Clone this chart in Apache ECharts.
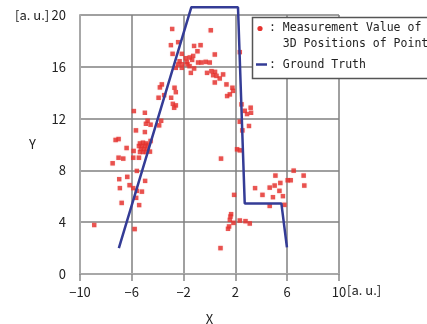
<!DOCTYPE html>
<html>
<head>
<meta charset="utf-8">
<script src="https://cdn.jsdelivr.net/npm/echarts@6/dist/echarts.min.js"></script>
<style>
  html, body { margin: 0; padding: 0; background: #fff; }
  #chart { width: 427px; height: 324px; }
</style>
</head>
<body>
<div id="chart"></div>
<script>
const measX = [
  -2.88, 0.10, -2.42, -2.98, -1.19, -0.69, -0.93, -2.85, -2.14, 0.41,
  -1.26, -1.83, -1.52, -1.34, -2.31, -1.75, -0.88, -0.62, -0.29, 0.02,
  -2.42, -2.11, -1.70, -2.60, -2.14, -1.54, -1.19, -1.44, -0.19, 0.15,
  0.43, 0.28, 0.54, 1.05, 0.79, 0.41, 1.31, 1.77, -3.68, -3.83,
  -2.70, -2.60, -3.50, -3.93, -2.96, 1.57, 1.36, 1.82, -2.83, -2.60,
  -2.73, 2.47, 3.18, 2.72, 2.90, 3.21, 2.34, 3.05, 2.54, 2.13,
  2.34, 0.89, 2.34,
  -5.84, -4.99, -4.78, -4.91, -4.55, -3.73, -3.89, -5.68, -4.99, -7.25,
  -7.02, -4.55, -5.37, -5.14, -4.91, -5.45, -5.22, -4.99, -4.76, -5.30,
  -5.07, -4.83, -5.14, -4.91, -5.37, -6.40, -5.86, -4.60, -7.02, -6.66,
  -5.89, -5.45, -7.48, -5.61, -6.97, -6.35, -4.97, -6.92, -6.17, -5.89,
  -5.61, -5.22, -5.66, -6.78, -5.43, -8.90, -5.78,
  1.90, 1.67, 1.62, 1.57, 1.85, 2.34, 2.78, 3.11, 1.51, 1.43,
  0.85, 6.50, 7.27, 5.09, 6.04, 6.27, 5.47, 5.03, 4.65, 7.32,
  3.52, 5.40, 4.09, 4.90, 5.67, 4.65, 5.78
];
const measY = [
  18.92, 18.82, 17.90, 17.67, 17.61, 17.67, 17.20, 17.00, 17.00, 16.95,
  16.84, 16.66, 16.72, 16.53, 16.43, 16.38, 16.33, 16.33, 16.38, 16.33,
  16.18, 16.20, 16.20, 15.92, 15.92, 16.05, 15.87, 15.53, 15.53, 15.66,
  15.61, 15.35, 15.30, 15.41, 15.10, 14.79, 14.64, 14.38, 14.64, 14.41,
  14.38, 14.04, 13.81, 13.61, 13.61, 13.87, 13.74, 14.14, 13.14, 13.02,
  12.84, 13.10, 12.84, 12.60, 12.35, 12.45, 11.76, 11.43, 11.09, 9.63,
  9.55, 8.91, 17.13,
  12.58, 12.45, 11.83, 11.60, 11.53, 11.83, 11.48, 11.09, 10.96, 10.35,
  10.42, 10.27, 10.08, 10.14, 10.08, 9.88, 9.88, 9.88, 9.96, 9.65,
  9.65, 9.65, 9.42, 9.42, 9.42, 9.73, 9.50, 9.45, 8.98, 8.91,
  8.98, 8.98, 8.55, 7.96, 7.32, 7.50, 7.19, 6.63, 6.86, 6.63,
  6.42, 6.36, 5.88, 5.49, 5.32, 3.78, 3.47,
  6.11, 4.62, 4.44, 4.18, 3.95, 4.13, 4.08, 3.90, 3.67, 3.49,
  2.00, 7.98, 7.60, 7.60, 7.24, 7.24, 7.03, 6.83, 6.67, 6.83,
  6.63, 6.42, 6.11, 5.93, 6.01, 5.26, 5.34
];

// ground truth outline
const truthX = [-7.0, -1.4, 2.2, 2.72, 5.55, 5.98];
const truthY = [2.0, 20.6, 20.6, 5.45, 5.45, 2.05];

// axis ticks
const xTicks = [-10, -6, -2, 2, 6, 10];
const yTicks = [0, 4, 8, 12, 16, 20];

const RED = '#e5332f';
const BLUE = '#343c96';
const labelFont = "'Noto Sans CJK JP', 'Liberation Sans', sans-serif";
const monoFont = "'DejaVu Sans Mono', 'Liberation Mono', monospace";

const chart = echarts.init(document.getElementById('chart'), null, { renderer: 'canvas' });

const option = {
  animation: false,
  grid: { left: 80, right: 88, top: 15, bottom: 50, outerBoundsMode: 'none' },
  xAxis: {
    type: 'value',
    min: xTicks[0],
    max: xTicks[xTicks.length - 1],
    interval: xTicks[1] - xTicks[0],
    name: 'X',
    nameLocation: 'middle',
    nameGap: 39,
    nameTextStyle: { color: '#222', fontSize: 13, fontFamily: labelFont },
    axisLine: { show: true, onZero: false, lineStyle: { color: '#a8a8a8', width: 2 } },
    axisTick: { show: true, length: 7, lineStyle: { color: '#888', width: 1.5 } },
    axisLabel: {
      margin: 12,
      color: '#222',
      fontSize: 13,
      fontFamily: labelFont,
      formatter: (v) => String(v).replace('-', '\u2212'),
    },
    splitLine: { show: true, lineStyle: { color: '#808080', width: 1.5 } },
  },
  yAxis: {
    type: 'value',
    min: yTicks[0],
    max: yTicks[yTicks.length - 1],
    interval: yTicks[1] - yTicks[0],
    name: 'Y',
    nameLocation: 'middle',
    nameRotate: 0,
    nameGap: 44,
    nameTextStyle: { color: '#222', fontSize: 13, fontFamily: labelFont },
    axisLine: { show: true, onZero: false, lineStyle: { color: '#a8a8a8', width: 2 } },
    axisTick: { show: false },
    axisLabel: { margin: 14, color: '#222', fontSize: 13, fontFamily: labelFont },
    splitLine: { show: true, lineStyle: { color: '#808080', width: 1.5 } },
  },
  series: [
    {
      type: 'scatter',
      data: measX.map((x, i) => [x, measY[i]]),
      symbol: 'rect',
      symbolSize: 4.5,
      itemStyle: { color: RED, shadowColor: 'rgba(229,51,47,0.35)', shadowBlur: 1.5 },
      z: 3,
    },
    {
      type: 'line',
      data: truthX.map((x, i) => [x, truthY[i]]),
      symbol: 'none',
      clip: false,
      lineStyle: { color: BLUE, width: 2.5 },
      z: 4,
    },
  ],
  graphic: [
    {
      type: 'text',
      left: 15,
      top: 9,
      style: { text: '[a. u.]', fill: '#222', font: `13px ${labelFont}` },
    },
    {
      type: 'text',
      left: 347,
      top: 284,
      style: { text: '[a. u.]', fill: '#222', font: `13px ${labelFont}` },
    },
    // legend box
    {
      type: 'rect',
      shape: { x: 252.5, y: 17.5, width: 200, height: 61 },
      style: { fill: '#fff', stroke: '#555', lineWidth: 1.5 },
      z: 10,
    },
    {
      type: 'circle',
      shape: { cx: 260, cy: 28.5, r: 2.6 },
      style: { fill: RED },
      z: 11,
    },
    {
      type: 'line',
      shape: { x1: 256, y1: 64.5, x2: 267, y2: 64.5 },
      style: { stroke: BLUE, lineWidth: 2.5 },
      z: 11,
    },
    {
      type: 'text',
      x: 269,
      y: 20,
      style: {
        text: ': Measurement Value of\n  3D Positions of Points',
        fill: '#222',
        font: `11.5px ${monoFont}`,
        lineHeight: 16,
      },
      z: 11,
    },
    {
      type: 'text',
      x: 269,
      y: 57,
      style: { text: ': Ground Truth', fill: '#222', font: `11.5px ${monoFont}`, lineHeight: 16 },
      z: 11,
    },
  ],
};

chart.setOption(option);
</script>
</body>
</html>
